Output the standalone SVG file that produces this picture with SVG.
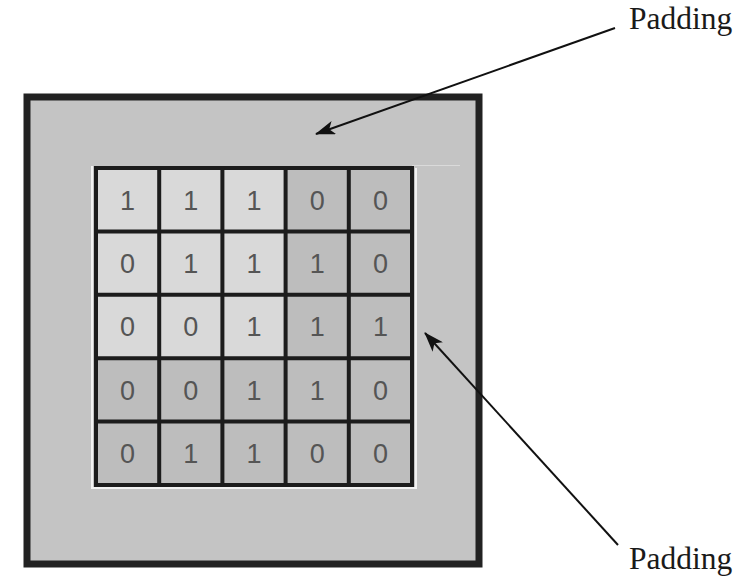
<svg xmlns="http://www.w3.org/2000/svg" width="754" height="582" viewBox="0 0 754 582">
<defs>
<style>
.lbl{font-family:"Liberation Serif","Times New Roman",serif;font-size:31.5px;fill:#1a1a1a}
.d{font-family:"Liberation Sans",Arial,sans-serif;font-size:27px;fill:#555;text-anchor:middle}
.lt{fill:#d9d9d9}
.dk{fill:#bdbdbd}
.conn{stroke:#111;stroke-width:2;fill:none}
</style>
<marker id="ah" viewBox="0 0 20 14" refX="19" refY="7" markerWidth="20" markerHeight="14" markerUnits="userSpaceOnUse" orient="auto">
<path d="M0,0 L20,7 L0,14 L5,7 Z" fill="#111"/>
</marker>
</defs>
<rect width="754" height="582" fill="#fff"/>
<g id="frame">
<rect x="27" y="97" width="452" height="467" fill="#c4c4c4" stroke="#222" stroke-width="7"/>
<polyline points="92,166 92,488 416,488 416,168" fill="none" stroke="#f2f2f2" stroke-width="2"/>
<line x1="412" y1="165.5" x2="460" y2="165.5" stroke="#dadada" stroke-width="1"/>
</g>
<g id="grid">
<g id="cells">
<rect class="lt" x="96" y="168" width="63.2" height="63.4"/>
<rect class="lt" x="159.2" y="168" width="63.2" height="63.4"/>
<rect class="lt" x="222.4" y="168" width="63.2" height="63.4"/>
<rect class="dk" x="285.6" y="168" width="63.2" height="63.4"/>
<rect class="dk" x="348.8" y="168" width="63.2" height="63.4"/>
<rect class="lt" x="96" y="231.4" width="63.2" height="63.4"/>
<rect class="lt" x="159.2" y="231.4" width="63.2" height="63.4"/>
<rect class="lt" x="222.4" y="231.4" width="63.2" height="63.4"/>
<rect class="dk" x="285.6" y="231.4" width="63.2" height="63.4"/>
<rect class="dk" x="348.8" y="231.4" width="63.2" height="63.4"/>
<rect class="lt" x="96" y="294.8" width="63.2" height="63.4"/>
<rect class="lt" x="159.2" y="294.8" width="63.2" height="63.4"/>
<rect class="lt" x="222.4" y="294.8" width="63.2" height="63.4"/>
<rect class="dk" x="285.6" y="294.8" width="63.2" height="63.4"/>
<rect class="dk" x="348.8" y="294.8" width="63.2" height="63.4"/>
<rect class="dk" x="96" y="358.2" width="316" height="126.8"/>
</g>
<g id="lines" stroke="#1c1c1c" stroke-width="4" fill="none">
<rect x="96" y="168" width="316" height="317"/>
<path d="M159.2,168V485M222.4,168V485M285.6,168V485M348.8,168V485M96,231.4H412M96,294.8H412M96,358.2H412M96,421.6H412"/>
</g>
<g id="digits">
<text class="d" x="127.6" y="209.5">1</text>
<text class="d" x="190.8" y="209.5">1</text>
<text class="d" x="254" y="209.5">1</text>
<text class="d" x="317.2" y="209.5">0</text>
<text class="d" x="380.4" y="209.5">0</text>
<text class="d" x="127.6" y="272.9">0</text>
<text class="d" x="190.8" y="272.9">1</text>
<text class="d" x="254" y="272.9">1</text>
<text class="d" x="317.2" y="272.9">1</text>
<text class="d" x="380.4" y="272.9">0</text>
<text class="d" x="127.6" y="336.3">0</text>
<text class="d" x="190.8" y="336.3">0</text>
<text class="d" x="254" y="336.3">1</text>
<text class="d" x="317.2" y="336.3">1</text>
<text class="d" x="380.4" y="336.3">1</text>
<text class="d" x="127.6" y="399.7">0</text>
<text class="d" x="190.8" y="399.7">0</text>
<text class="d" x="254" y="399.7">1</text>
<text class="d" x="317.2" y="399.7">1</text>
<text class="d" x="380.4" y="399.7">0</text>
<text class="d" x="127.6" y="463.1">0</text>
<text class="d" x="190.8" y="463.1">1</text>
<text class="d" x="254" y="463.1">1</text>
<text class="d" x="317.2" y="463.1">0</text>
<text class="d" x="380.4" y="463.1">0</text>
</g>
</g>
<g id="connectors">
<line class="conn" x1="615" y1="28" x2="316" y2="134" marker-end="url(#ah)"/>
<line class="conn" x1="618" y1="545" x2="425" y2="333" marker-end="url(#ah)"/>
</g>
<g id="label-top"><text class="lbl" x="629" y="29">Padding</text></g>
<g id="label-bottom"><text class="lbl" x="629" y="569">Padding</text></g>
</svg>
